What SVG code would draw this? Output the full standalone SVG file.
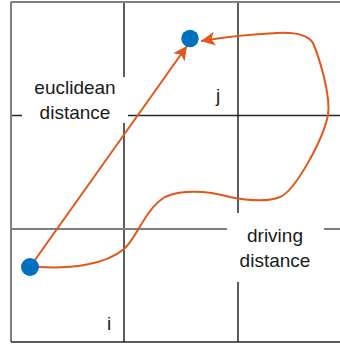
<svg xmlns="http://www.w3.org/2000/svg" width="340" height="345" viewBox="0 0 340 345">
<style>
.gray{stroke:#7f7f7f;stroke-width:2;fill:none}
.dark{stroke:#262626;stroke-width:1.5;fill:none}
.route{stroke:#E0561B;stroke-width:2;fill:none}
.pt{fill:#0070C0}
.lbl{font-family:"Liberation Sans",Arial,sans-serif;font-size:19px;fill:#1a1a1a;text-anchor:middle}
.bg{fill:#ffffff}
</style>
<defs>
<marker id="ah" markerUnits="userSpaceOnUse" markerWidth="14" markerHeight="14" viewBox="0 0 12 12" refX="12" refY="6" orient="auto">
<path d="M0,0 L12,6 L0,12 L3,6 z" fill="#E0561B"/>
</marker>
</defs>
<g id="grid">
<line class="dark" x1="124" y1="2" x2="124" y2="342"/>
<line class="dark" x1="238" y1="2" x2="238" y2="342"/>
<line class="dark" x1="11" y1="115.5" x2="340" y2="115.5"/>
<line class="gray" x1="11" y1="229" x2="340" y2="229"/>
<line class="gray" x1="11" y1="2" x2="340" y2="2"/>
<line class="gray" x1="11" y1="2" x2="11" y2="342"/>
<line class="dark" x1="11" y1="342" x2="340" y2="342"/>
</g>
<g id="euclidean-label">
<rect class="bg" x="22" y="77" width="106" height="46"/>
<text class="lbl" x="75" y="94">euclidean</text>
<text class="lbl" x="75" y="119">distance</text>
</g>
<g id="driving-label">
<rect class="bg" x="227" y="213" width="97" height="69"/>
<text class="lbl" x="275" y="241.5">driving</text>
<text class="lbl" x="275" y="266.5">distance</text>
</g>
<g id="label-j"><text class="lbl" x="218" y="102">j</text></g>
<g id="label-i"><text class="lbl" x="109" y="330">i</text></g>
<g id="connectors">
<path class="route" marker-end="url(#ah)" d="M30,267 L187,46"/>
<path class="route" marker-end="url(#ah)" d="M38,267 C70,269 105,265 124,249 C137,238 145,209 165,197 C180,190 205,190 230,197 C245,200 265,203 280,197 C295,191 323,140 328,115 C331,95 319,57 313,43 C308,35 297,32 277,33 C255,34 225,37 201,41"/>
</g>
<g id="node-i"><circle class="pt" cx="30" cy="267" r="9"/></g>
<g id="node-j"><circle class="pt" cx="190" cy="38.5" r="8.7"/></g>
</svg>
